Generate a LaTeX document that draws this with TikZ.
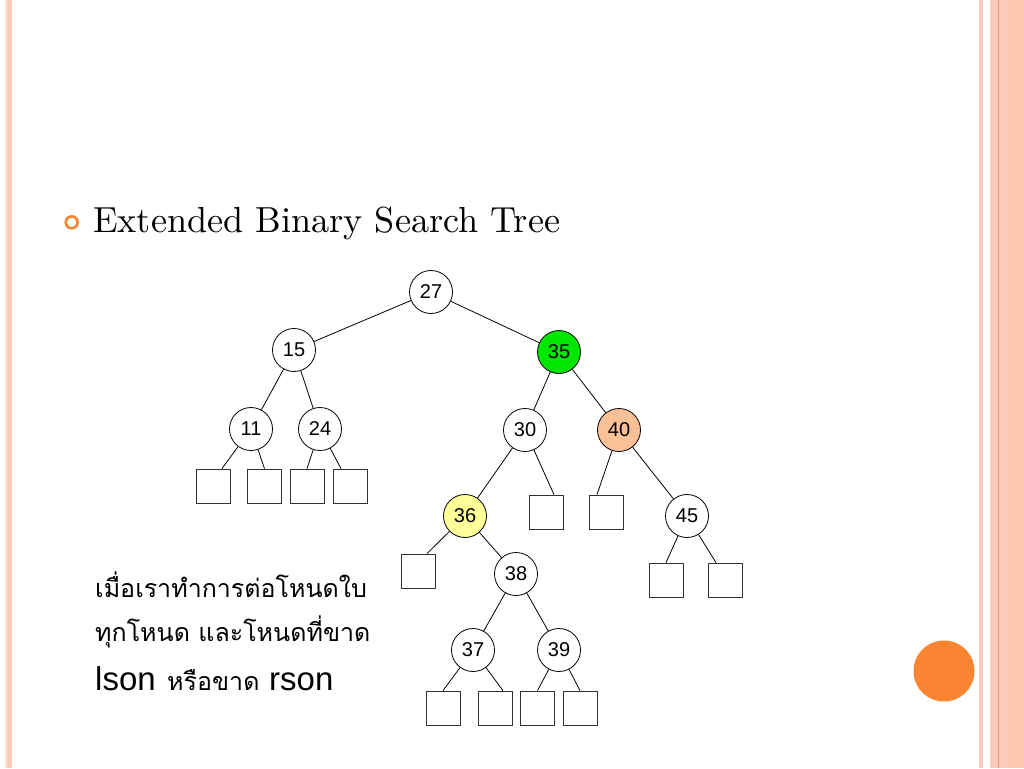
\documentclass[tikz,border=0pt]{standalone}
\usepackage{fontspec}
\newfontfamily\arial{Liberation Sans}
\newfontfamily\thai[Script=Thai]{Loma}
\newfontfamily\titlefont{lmroman10-regular.otf}
\definecolor{bandA}{RGB}{252,203,185}
\definecolor{bandB}{RGB}{251,227,216}
\definecolor{bandC}{RGB}{254,200,176}
\definecolor{bandLine}{RGB}{232,154,120}
\definecolor{accent}{RGB}{249,133,50}
\definecolor{nodegreen}{RGB}{0,230,0}
\definecolor{nodepeach}{RGB}{250,192,150}
\definecolor{nodeyellow}{RGB}{255,255,153}
\definecolor{boxgray}{RGB}{50,50,50}
\begin{document}
\begin{tikzpicture}[x=1pt,y=-1pt,
  tnode/.style={circle,draw=black,line width=0.8pt,fill=white,minimum size=43pt,inner sep=0pt,font=\arial\fontsize{20}{20}\selectfont},
  leafbox/.style={rectangle,draw=boxgray,line width=0.8pt,fill=white,minimum size=34pt,inner sep=0pt},
  edge/.style={draw=black,line width=0.8pt},
  thaitext/.style={anchor=base west,inner sep=0pt,font=\thai\fontsize{25}{27}\selectfont},
  sanstext/.style={anchor=base west,inner sep=0pt,font=\arial\fontsize{33}{34}\selectfont}]
\useasboundingbox (0,0) rectangle (1024,768);
\fill[white] (0,0) rectangle (1024,768);
% frame bands
\fill[bandB] (5,0) rectangle (7.3,768);
\fill[bandA] (7.3,0) rectangle (11.7,768);
\fill[bandA] (978.7,0) rectangle (983,768);
\fill[bandA] (990,0) rectangle (1007.7,768);
\fill[bandC] (1007.7,0) rectangle (1024,768);
\fill[bandLine] (998.3,0) rectangle (999.2,768);
% decorations
\fill[accent] (944,671) circle (30.5);
\draw[accent,line width=2.7pt] (71.7,222.3) circle (5.9);
% title
\node[anchor=base west,inner sep=0pt,font=\titlefont\fontsize{36.2}{38}\selectfont] (title) at (93,232) {Extended Binary Search Tree};
% tree nodes
\node[tnode] (n27) at (431,292) {27};
\node[tnode] (n15) at (294,350) {15};
\node[tnode] (n11) at (251,429) {11};
\node[tnode] (n24) at (320,429) {24};
\node[tnode,fill=nodegreen] (n35) at (559,352) {35};
\node[tnode] (n30) at (525,430) {30};
\node[tnode,fill=nodepeach] (n40) at (619,430) {40};
\node[tnode,fill=nodeyellow] (n36) at (465,516) {36};
\node[tnode] (n45) at (687,516) {45};
\node[tnode] (n38) at (516,574) {38};
\node[tnode] (n37) at (473,650) {37};
\node[tnode] (n39) at (559,650) {39};
% leaves
\node[leafbox] (s1) at (213,486) {};
\node[leafbox] (s2) at (264.5,486) {};
\node[leafbox] (s3) at (307,486) {};
\node[leafbox] (s4) at (350,486) {};
\node[leafbox] (s5) at (546,512) {};
\node[leafbox] (s6) at (606,512) {};
\node[leafbox] (s7) at (418,571) {};
\node[leafbox] (s8) at (666,580) {};
\node[leafbox] (s9) at (725,580) {};
\node[leafbox] (s10) at (443,708) {};
\node[leafbox] (s11) at (495,708) {};
\node[leafbox] (s12) at (537.5,708) {};
\node[leafbox] (s13) at (580,708) {};
% internal edges
\draw[edge] (n27) -- (n15);
\draw[edge] (n27) -- (n35);
\draw[edge] (n15) -- (n11);
\draw[edge] (n15) -- (n24);
\draw[edge] (n35) -- (n30);
\draw[edge] (n35) -- (n40);
\draw[edge] (n30) -- (n36);
\draw[edge] (n40) -- (n45);
\draw[edge] (n36) -- (n38);
\draw[edge] (n38) -- (n37);
\draw[edge] (n38) -- (n39);
% leaf edges
\draw[edge] (n11) -- ([xshift=9pt]s1.north);
\draw[edge] (n11) -- (s2.north);
\draw[edge] (n24) -- (s3.north);
\draw[edge] (n24) -- ([xshift=-9pt]s4.north);
\draw[edge] (n30) -- ([xshift=8pt]s5.north);
\draw[edge] (n40) -- ([xshift=-9pt]s6.north);
\draw[edge] (n36) -- ([xshift=9pt]s7.north);
\draw[edge] (n45) -- (s8.north);
\draw[edge] (n45) -- ([xshift=-9pt]s9.north);
\draw[edge] (n37) -- (s10.north);
\draw[edge] (n37) -- ([xshift=8pt]s11.north);
\draw[edge] (n39) -- (s12.north);
\draw[edge] (n39) -- (s13.north);
% caption
\node[thaitext] (cap1) at (95,597) {เมื่อเราทำการต่อโหนดใบ};
\node[thaitext] (cap2) at (95,641) {ทุกโหนด และโหนดที่ขาด};
\node[sanstext] (cap3a) at (95,690) {lson};
\node[thaitext] (cap3b) at (167,690) {หรือขาด};
\node[sanstext] (cap3c) at (269,690) {rson};
\end{tikzpicture}
\end{document}
